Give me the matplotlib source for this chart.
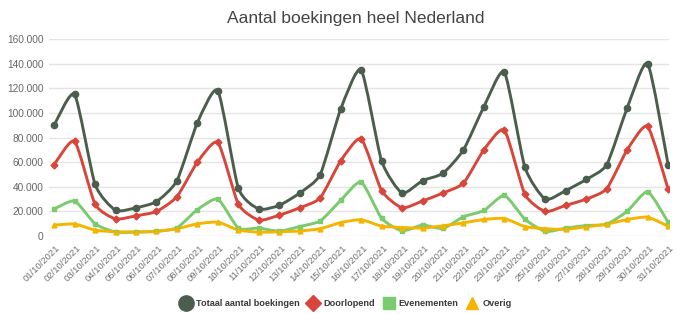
import numpy as np
import matplotlib.pyplot as plt
import matplotlib.transforms as mtransforms
from matplotlib.path import Path
from matplotlib.patches import PathPatch
from matplotlib.lines import Line2D
from matplotlib.ticker import FuncFormatter

plt.rcParams['font.family'] = ['Liberation Sans', 'DejaVu Sans']

dates = ['%02d/10/2021' % d for d in range(1, 32)]

totaal = [90000, 115000, 42000, 21000, 23000, 28000, 45000, 92000, 118000, 39000,
          22000, 25000, 35000, 50000, 103000, 135000, 61000, 35000, 45000, 51000,
          70000, 105000, 133000, 56000, 30000, 37000, 46000, 58000, 104000, 140000, 58000]
doorlopend = [58000, 77000, 26000, 14000, 16500, 20000, 32000, 60000, 76000, 26000,
              13000, 17000, 23000, 31000, 61000, 79000, 37000, 23000, 28500, 35000,
              43000, 70000, 86000, 34000, 20000, 25000, 30000, 38500, 70000, 89000, 38000]
evenementen = [22000, 28500, 10000, 3300, 3200, 3800, 6700, 21500, 30000, 6500,
               6500, 4000, 7800, 12300, 29000, 44000, 14500, 4300, 9000, 6200,
               15700, 20800, 33000, 13800, 3800, 6500, 8600, 9700, 20200, 36000, 11300]
overig = [9000, 9800, 4900, 3500, 3500, 4000, 6000, 10000, 11300, 5000,
          3200, 3500, 4200, 6000, 11000, 13300, 8100, 7000, 6500, 8400,
          10800, 13500, 14300, 7800, 6000, 5500, 7600, 9700, 13500, 15400, 8000]

series = [
    ('Totaal aantal boekingen', totaal, '#4b5e4d', 'o', 4.5),
    ('Doorlopend', doorlopend, '#d8453b', 'D', 3.5),
    ('Evenementen', evenementen, '#7acb6d', 's', 3.5),
    ('Overig', overig, '#f4b400', '^', 3.5),
]


def smooth_path(x, y, t=0.1):
    # cubic bezier through every point (catmull-rom style)
    x = np.asarray(x, float)
    y = np.asarray(y, float)
    verts = [(x[0], y[0])]
    codes = [Path.MOVETO]
    n = len(x)
    for i in range(n - 1):
        p0 = i - 1 if i > 0 else i
        p3 = i + 2 if i + 2 < n else i + 1
        c1 = (x[i] + (x[i + 1] - x[p0]) * t, y[i] + (y[i + 1] - y[p0]) * t)
        c2 = (x[i + 1] - (x[p3] - x[i]) * t, y[i + 1] - (y[p3] - y[i]) * t)
        verts += [c1, c2, (x[i + 1], y[i + 1])]
        codes += [Path.CURVE4] * 3
    return Path(verts, codes)


fig = plt.figure(figsize=(6.77, 3.14), dpi=100)
ax = fig.add_axes([0.0724, 0.248, 0.916, 0.628])

xs = np.arange(len(dates))
for name, vals, col, mk, ms in series:
    ax.add_patch(PathPatch(smooth_path(xs, vals), fill=False, edgecolor=col, lw=2.1,
                           capstyle='round', joinstyle='round', zorder=3))
    ax.plot(xs, vals, ls='none', marker=mk, ms=ms, color=col, zorder=4)

ax.set_xlim(-0.25, 30.05)
ax.set_ylim(0, 160000)
ax.set_yticks(np.arange(0, 160001, 20000))
ax.yaxis.set_major_formatter(FuncFormatter(lambda v, p: '{:,.0f}'.format(v).replace(',', '.')))
ax.set_xticks(xs)
ax.set_xticklabels(dates, rotation=45, ha='right', va='top', rotation_mode='anchor')
ax.tick_params(axis='both', length=0, labelsize=7.3, colors='#666666', pad=4)
ax.tick_params(axis='x', labelsize=6.8, colors='#707070', pad=5)
offset = mtransforms.ScaledTranslation(1.5 / 100, 0, fig.dpi_scale_trans)
for lbl in ax.get_xticklabels():
    lbl.set_transform(lbl.get_transform() + offset)
ax.grid(axis='y', color='#e4e4e4', lw=1)
ax.set_axisbelow(True)
for s in ax.spines.values():
    s.set_visible(False)

fig.text(0.525, 0.94, 'Aantal boekingen heel Nederland', ha='center', va='center',
         fontsize=12.5, color='#444444')

handles = [Line2D([], [], ls='none', marker=mk, color=col, ms=ms * 2.4 if mk != 'o' else 11)
           for name, vals, col, mk, ms in series]
fig.legend(handles, [s[0] for s in series], loc='center', bbox_to_anchor=(0.511, 0.032),
           ncol=4, frameon=False, prop={'size': 6.6, 'weight': 'bold'}, handletextpad=0.5,
           columnspacing=0.9, handlelength=1.2, labelcolor='#3a3a3a')

fig.savefig('out.png', dpi=100)
